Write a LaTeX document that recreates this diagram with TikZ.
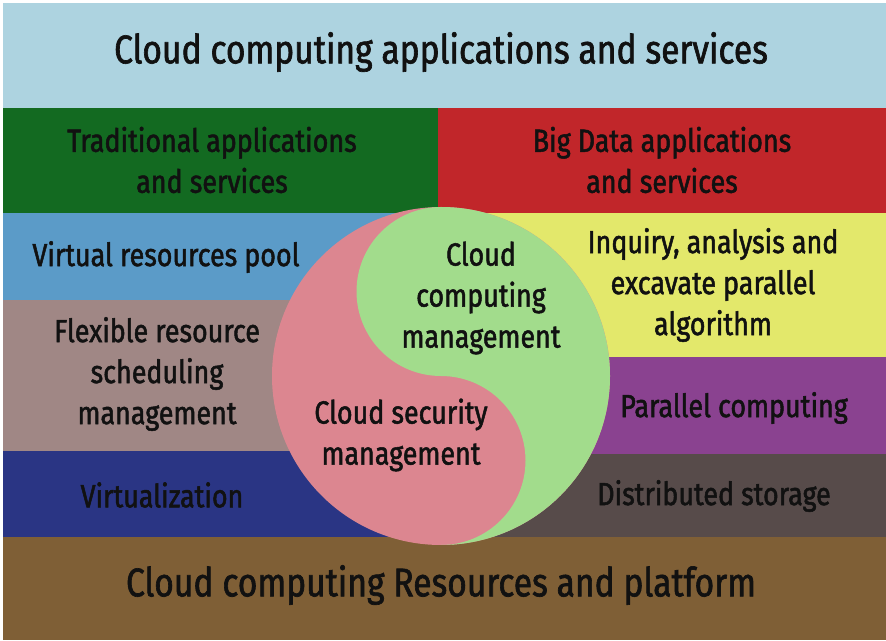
\documentclass[tikz,border=0pt]{standalone}
\usepackage{fontspec}
\setmainfont{Fira Sans}[FakeStretch=0.84, FakeBold=1.6]
\definecolor{cTop}{RGB}{173,211,224}
\definecolor{cTrad}{RGB}{19,106,33}
\definecolor{cBig}{RGB}{193,38,42}
\definecolor{cVpool}{RGB}{91,155,200}
\definecolor{cFlex}{RGB}{160,135,133}
\definecolor{cVirt}{RGB}{42,53,132}
\definecolor{cInq}{RGB}{227,232,107}
\definecolor{cPar}{RGB}{138,66,144}
\definecolor{cDist}{RGB}{87,75,74}
\definecolor{cBot}{RGB}{127,95,54}
\definecolor{cPink}{RGB}{220,134,144}
\definecolor{cGreen}{RGB}{162,220,140}
\definecolor{cText}{RGB}{17,17,17}
\tikzset{
  big/.style={text=cText, align=center, font=\fontsize{40}{48}\selectfont, inner sep=0pt},
  lbl/.style={text=cText, align=center, font=\fontsize{32}{41}\selectfont, inner sep=0pt},
}
\begin{document}
\begin{tikzpicture}[x=1pt,y=1pt]
\useasboundingbox (0,0) rectangle (886,640);
\fill[white] (0,0) rectangle (886,640);
% bands (y measured upward: Y = 640 - y)
\fill[cTop]   (3,532) rectangle (886,637);
\fill[cTrad]  (3,427) rectangle (438,532);
\fill[cBig]   (438,427) rectangle (886,532);
\fill[cVpool] (3,340) rectangle (438,427);
\fill[cFlex]  (3,189) rectangle (438,340);
\fill[cVirt]  (3,103) rectangle (438,189);
\fill[cInq]   (438,283) rectangle (886,427);
\fill[cPar]   (438,186) rectangle (886,283);
\fill[cDist]  (438,103) rectangle (886,186);
\fill[cBot]   (3,0) rectangle (886,103);
% yin-yang
\fill[cPink] (441,264) circle[radius=169];
\fill[cGreen] (441,433) arc[start angle=90, end angle=-90, radius=169]
  arc[start angle=-90, end angle=90, radius=84.5]
  arc[start angle=-90, end angle=-270, radius=84.5] -- cycle;
% labels
\node[big] (top) at (441,588) {Cloud computing applications and services};
\node[lbl] (trad) at (212,480) {Traditional applications\\and services};
\node[lbl] (bigd) at (662,480) {Big Data applications\\and services};
\node[lbl] (vpool) at (166,383) {Virtual resources pool};
\node[lbl] (flex) at (157,266) {Flexible resource\\scheduling\\management};
\node[lbl] (virt) at (162,145) {Virtualization};
\node[lbl] (ccm) at (481,342) {Cloud\\computing\\management};
\node[lbl] (csm) at (401,205) {Cloud security\\management};
\node[lbl] (inq) at (713,355) {Inquiry, analysis and\\excavate parallel\\algorithm};
\node[lbl] (par) at (734,232) {Parallel computing};
\node[lbl] (dist) at (714,144) {Distributed storage};
\node[big] (bot) at (441,55) {Cloud computing Resources and platform};
\end{tikzpicture}
\end{document}
